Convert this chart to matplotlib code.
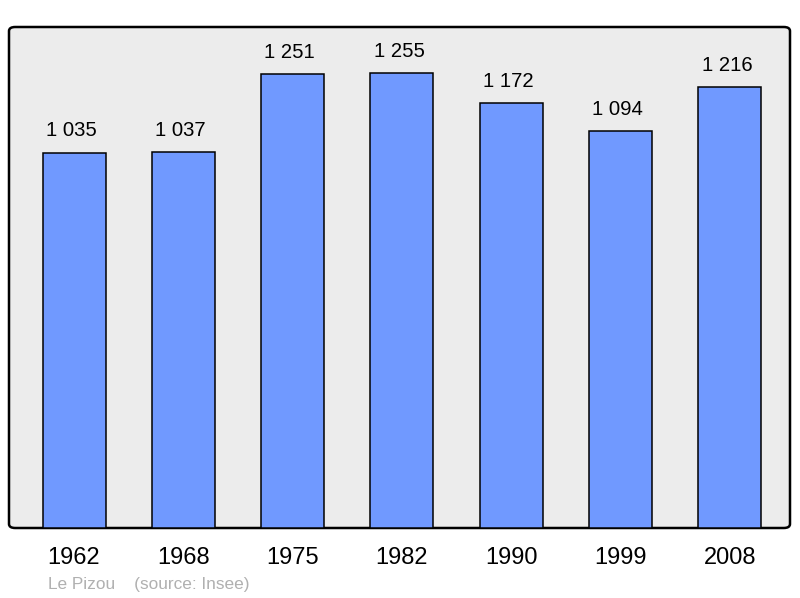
import matplotlib.pyplot as plt
from matplotlib.patches import FancyBboxPatch

years = ['1962', '1968', '1975', '1982', '1990', '1999', '2008']
population = [1035, 1037, 1251, 1255, 1172, 1094, 1216]
value_labels = ['1 035', '1 037', '1 251', '1 255', '1 172', '1 094', '1 216']

plt.rcParams['font.family'] = ['Liberation Sans', 'DejaVu Sans']

fig = plt.figure(figsize=(8, 5.98), dpi=100)
ax = fig.add_axes([9 / 800, 70 / 598, 781 / 800, 501 / 598])
ax.set_facecolor('none')

# rounded frame behind the bars
frame = FancyBboxPatch((0, 0), 1, 1, boxstyle='round,pad=0,rounding_size=0.008',
                       transform=ax.transAxes, facecolor='#ececec',
                       edgecolor='black', linewidth=1.8, zorder=0, clip_on=False)
ax.add_patch(frame)

x = [i + 0.01 for i in range(len(years))]
ax.bar(x, population, width=0.577, color='#7099ff',
       edgecolor='black', linewidth=1.1, zorder=2)

for xi, v, lab in zip(x, population, value_labels):
    ax.annotate(lab, (xi, v), xytext=(-2, 9), textcoords='offset points',
                ha='center', va='bottom', fontsize=14.6)

ax.set_xlim(-0.585, 6.56)
ax.set_ylim(0, 1382)
ax.set_xticks(x)
ax.set_xticklabels(years, fontsize=17)
ax.tick_params(axis='x', length=0, pad=14)
ax.set_yticks([])
for s in ax.spines.values():
    s.set_visible(False)

fig.text(48 / 800, 1 - 585 / 598, 'Le Pizou    (source: Insee)', fontsize=12.4,
         color='#b0b0b0', ha='left', va='center')

fig.savefig('out.png', dpi=100)
